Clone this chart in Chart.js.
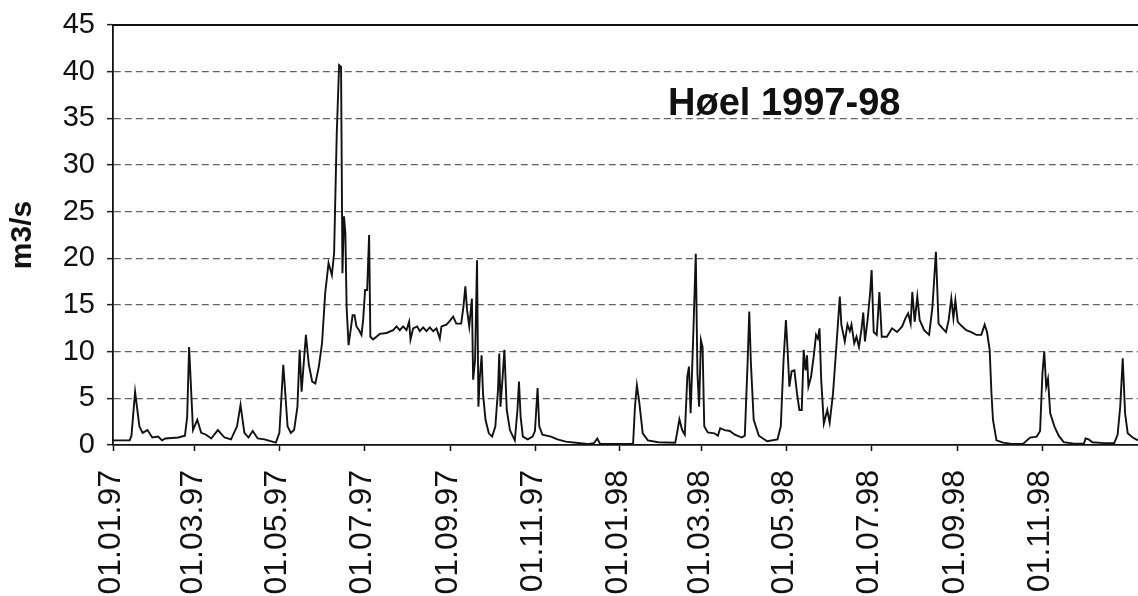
<!DOCTYPE html>
<html><head><meta charset="utf-8">
<script src="https://cdn.jsdelivr.net/npm/chart.js@4.4.1/dist/chart.umd.min.js"></script>
<style>html,body{margin:0;padding:0;background:#fff;overflow:hidden}#c{display:block}</style>
</head><body>
<canvas id="c" width="1138" height="596"></canvas>
<script>
// Day number counted from 01.01.97
const days = [0,12,13.3,15.9,19,21.3,24.8,28.3,32.5,35.3,37.7,47,51.8,53.4,54.8,57.6,60.7,63.5,67.1,70.7,75.5,80.3,85,89.3,91.8,94.6,97.5,100.6,104.2,109,117.3,119.8,122.6,125.7,128,130.4,132.8,134.4,135.8,137.5,138.9,141,143.4,145.7,148.2,150.5,152.8,155.2,157.6,159.2,161.1,162.8,164.2,165.2,166.3,167.3,168.2,169.6,171.1,172.5,173.9,175.3,177.2,178.9,180.1,181.5,183,184.4,185.3,187.3,189.7,192.1,196.9,201.7,204.1,206.5,208.9,211.3,213.2,214.2,216.1,219,220.9,223.3,225.7,228.1,230.5,232.9,235.3,236.5,240.1,242.5,244.9,247.2,250.7,252.3,253.7,254.9,256.5,258.4,259.3,260.7,262.1,263.1,264,265.4,266.4,268.2,270.6,273,275.3,277.2,278.1,279,280.4,281.8,283.5,285.8,289.3,291.2,292.3,293.5,295.1,298.6,302.1,303.8,305.7,306.9,309.2,315.3,320,326,341.5,346.3,348.7,350.6,372.9,374.5,375.8,377.2,378.9,381.4,385.1,392.5,404.8,406.1,407.8,409.8,411.7,413.5,414.7,415.9,417.6,419.6,420.8,422,423.3,424.5,425.7,428.2,433,435.5,437.2,440.4,444.1,447.7,452.7,454.9,456.9,458.1,459.3,461.3,465,471,478.4,480.8,482.8,484.5,485.7,487,488.6,490.6,492.5,494.2,495.9,497.3,498.6,499.7,500.7,502.6,504.6,506.2,507.5,508.7,509.9,511.8,514.3,516,518.4,520.8,523.3,524.4,526.9,528.8,530.5,531.7,533.7,535.3,537.1,539,540.2,541.4,543.3,545.1,546.2,547.7,549.9,551.8,553.5,557.2,560.9,564.5,568.2,570.6,572.5,574.3,575.5,577.2,579.1,580.8,584,587.6,590,592.5,594.4,597.3,599.8,601.7,603.6,605.1,606.5,608.2,610.7,614.3,618,621.6,625.2,627.6,629.3,631.2,632.5,633.6,636.1,640.9,648.1,655.4,660.3,665.1,667.5,669.2,670.5,671.9,673.2,674.8,677.8,680.9,684.5,691.8,699.1,700.3,702.5,705.2,713.6,720.9,723.3,725.2,727,728.7,730.6,734.2,737.9];
// Discharge, m3/s
const flow = [0.5,0.5,1.0,5.7,2.0,1.3,1.6,0.8,0.9,0.5,0.7,0.8,1.0,3.0,10.5,1.6,2.7,1.3,1.1,0.7,1.6,0.8,0.6,2.0,4.3,1.3,0.8,1.5,0.7,0.6,0.25,1.3,8.6,2.0,1.3,1.6,4.1,10.2,5.7,9.1,11.8,8.6,6.8,6.6,8.4,10.9,16.3,19.5,18.2,20.6,33.4,40.7,40.5,18.4,24.5,22.7,14.8,10.7,12.3,13.9,13.9,12.7,12.3,11.8,13.4,16.6,16.6,22.5,11.6,11.3,11.6,11.9,12.0,12.3,12.7,12.3,12.7,12.3,13.2,11.3,12.5,12.7,12.2,12.6,12.2,12.6,12.2,12.5,11.4,12.7,12.9,13.3,13.75,13.0,13.0,14.8,17.0,14.5,12.7,15.7,7.0,9.1,19.8,4.1,7.0,9.6,5.5,2.7,1.25,0.9,2.0,5.9,9.8,4.1,7.0,10.2,3.75,1.6,0.5,3.75,6.8,3.0,0.9,0.6,0.9,1.5,6.1,2.0,1.1,0.9,0.6,0.36,0.1,0.2,0.7,0.15,0.1,0.2,4.1,6.4,4.6,1.25,0.5,0.3,0.25,1.25,2.75,1.6,1.1,7.3,8.4,3.4,10.9,20.5,7.7,4.1,11.25,10.5,2.0,1.35,1.25,1.0,1.8,1.6,1.5,1.1,0.8,1.0,8.75,14.3,8.75,2.7,1.0,0.4,0.6,2.0,9.1,13.4,10.2,6.25,7.9,8.0,5.5,3.75,3.75,10.2,8.0,9.6,6.25,7.3,9.6,11.8,11.4,12.5,7.0,2.3,3.75,2.4,5.5,10.5,15.9,12.9,11.1,12.9,12.2,12.9,10.9,11.6,10.5,12.5,14.2,11.1,13.4,16.25,18.75,12.1,11.8,16.4,11.6,11.6,12.5,12.1,12.7,13.6,14.1,13.0,16.4,13.2,15.9,13.4,12.3,11.8,14.8,20.7,13.0,12.5,12.1,13.4,15.7,13.6,15.5,13.2,12.8,12.3,12.1,11.8,11.8,12.9,12.1,10.2,5.5,2.7,0.5,0.25,0.1,0.15,0.8,0.9,1.5,7.7,10.0,6.25,7.1,3.4,2.0,1.0,0.3,0.15,0.15,0.7,0.6,0.3,0.2,0.2,1.1,4.1,9.3,3.4,1.25,0.8,0.5];
const tickDays = [0,59,120,181,243,304,365,424,485,546,608,669];
const tickLabels = ['01.01.97','01.03.97','01.05.97','01.07.97','01.09.97','01.11.97','01.01.98','01.03.98','01.05.98','01.07.98','01.09.98','01.11.98'];
const chartTitle = 'Høel 1997-98';
const yTitle = 'm3/s';

const FONT = "'Liberation Sans', Arial, Helvetica, sans-serif";

const framePlugin = {
  id: 'frame',
  afterDraw(chart) {
    const {ctx, chartArea: a} = chart;
    ctx.save();
    ctx.strokeStyle = '#111';
    ctx.lineWidth = 1.8;
    ctx.beginPath();
    ctx.moveTo(a.left, a.top);
    ctx.lineTo(a.right, a.top);
    ctx.stroke();
    ctx.fillStyle = '#111';
    ctx.font = 'bold 38px ' + FONT;
    ctx.textBaseline = 'alphabetic';
    ctx.textAlign = 'left';
    ctx.fillText(chartTitle, a.left + 0.5415 * (a.right - a.left), a.top + 90);
    ctx.restore();
  }
};

new Chart(document.getElementById('c'), {
  type: 'line',
  data: {
    datasets: [{
      data: days.map((d, i) => ({x: d, y: flow[i]})),
      borderColor: '#111',
      borderWidth: 1.9,
      pointRadius: 0,
      tension: 0,
      fill: false
    }]
  },
  options: {
    responsive: false,
    animation: false,
    devicePixelRatio: 1,
    layout: {padding: 0},
    plugins: {legend: {display: false}, tooltip: {enabled: false}, title: {display: false}},
    scales: {
      x: {
        type: 'linear', min: 0, max: 738,
        afterBuildTicks(s) { s.ticks = tickDays.map(v => ({value: v})); },
        afterFit(s) { s.height = 151; s.paddingLeft = 0; s.paddingRight = 0; },
        ticks: {
          autoSkip: false, minRotation: 90, maxRotation: 90, padding: 19, color: '#111',
          font: {family: FONT, size: 32}, labelOffset: -2,
          callback: (v) => { const i = tickDays.indexOf(v); return i < 0 ? '' : tickLabels[i]; }
        },
        grid: {drawOnChartArea: false, drawTicks: true, tickLength: 6, tickColor: '#111', tickWidth: 1.5},
        border: {display: true, color: '#111', width: 1.8}
      },
      y: {
        min: 0, max: 45,
        afterFit(s) { s.width = 113; s.paddingTop = 25; s.paddingBottom = 0; },
        ticks: {stepSize: 5, padding: 12, color: '#111', font: {family: FONT, size: 29}},
        title: {display: true, text: yTitle, color: '#111', font: {family: FONT, size: 30, weight: 'bold'}, padding: {top: 5, bottom: 0}},
        grid: {
          color: (c) => (c.tick && (c.tick.value === 0 || c.tick.value === 45)) ? 'rgba(0,0,0,0)' : 'rgba(60,60,60,0.8)',
          lineWidth: 1.3, drawTicks: true, tickLength: 6, tickColor: '#222', tickWidth: 1.5
        },
        border: {display: true, color: '#111', width: 1.8, dash: [7, 4]}
      }
    }
  },
  plugins: [framePlugin]
});
</script>
</body></html>
